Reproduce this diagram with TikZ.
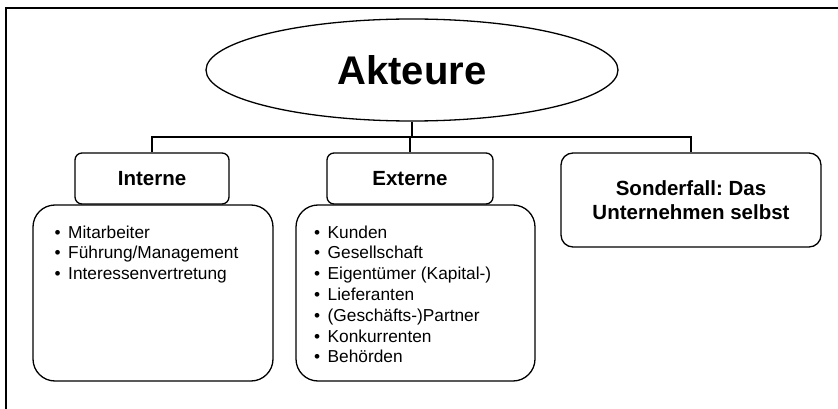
\documentclass[tikz,border=0pt]{standalone}
\usepackage{fontspec}
\setmainfont{Liberation Sans}
\usetikzlibrary{shapes.geometric}
\frenchspacing
\begin{document}
\begin{tikzpicture}[x=1pt,y=-1pt,line width=1.3pt,
  titlebox/.style={draw,rectangle,rounded corners=7pt,fill=white,inner sep=0pt,
    font=\fontsize{20.5}{24}\selectfont\bfseries,align=center},
  listbox/.style={draw,rectangle,rounded corners=22pt,inner sep=0pt},
  itemline/.style={anchor=base west,inner sep=0pt,font=\fontsize{17.3}{20}\selectfont}]
\useasboundingbox (0,0) rectangle (838,409);
\fill[white] (0,0) rectangle (838,409);
% frame
\draw[line width=1.2pt] (6,409) -- (6,8) -- (838,8);
% root
\node[ellipse,draw,minimum width=412pt,minimum height=102pt,inner sep=0pt,
  font=\fontsize{40}{48}\selectfont\bfseries] (akt) at (412,70) {Akteure};
% list boxes
\node[listbox,minimum width=240pt,minimum height=176pt] (ilist) at (153,293) {};
\node[listbox,minimum width=239pt,minimum height=176pt] (elist) at (415.5,293) {};
% title boxes
\node[titlebox,minimum width=154pt,minimum height=51pt] (int) at (152,178.5) {Interne};
\node[titlebox,minimum width=166pt,minimum height=51pt] (ext) at (410,178.5) {Externe};
\node[titlebox,rounded corners=12pt,minimum width=260pt,minimum height=94pt] (son) at (691,200) {Sonderfall: Das\\Unternehmen selbst};
% connectors
\coordinate (bus) at (411,137);
\draw (akt.south) -- (akt.south |- bus);
\draw (int.north) |- (son.north |- bus) -- (son.north);
\draw (ext.north) -- (ext.north |- bus);
% internal items
\node[itemline] (i1) at (54,238) {\textbullet\hspace{7.5pt}Mitarbeiter};
\node[itemline] (i2) at (54,258.8) {\textbullet\hspace{7.5pt}Führung/Management};
\node[itemline] (i3) at (54,279.6) {\textbullet\hspace{7.5pt}Interessenvertretung};
% external items
\node[itemline] (e1) at (313.5,238) {\textbullet\hspace{7.5pt}Kunden};
\node[itemline] (e2) at (313.5,258.8) {\textbullet\hspace{7.5pt}Gesellschaft};
\node[itemline] (e3) at (313.5,279.6) {\textbullet\hspace{7.5pt}Eigentümer (Kapital-)};
\node[itemline] (e4) at (313.5,300.4) {\textbullet\hspace{7.5pt}Lieferanten};
\node[itemline] (e5) at (313.5,321.2) {\textbullet\hspace{7.5pt}(Geschäfts-)Partner};
\node[itemline] (e6) at (313.5,342) {\textbullet\hspace{7.5pt}Konkurrenten};
\node[itemline] (e7) at (313.5,362.8) {\textbullet\hspace{7.5pt}Behörden};
\end{tikzpicture}
\end{document}
